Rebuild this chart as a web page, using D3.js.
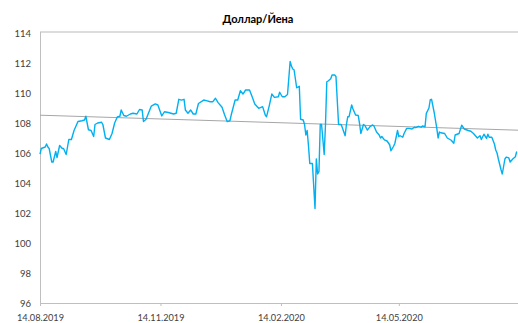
<!DOCTYPE html>
<meta charset="utf-8">
<title>Доллар/Йена</title>
<script src="https://cdn.jsdelivr.net/npm/d3@7"></script>
<style>
  body { margin: 0; background: #fff; }
  svg text { font-family: Lato, "Open Sans", sans-serif; fill: #595959; }
</style>
<body>
<svg id="chart" width="518" height="323"></svg>
<script>

// Доллар/Йена, курс (day = days since 14.08.2019)
var startDate = new Date(2019, 7, 14);

var usdJpy = [
  [0,105.93],[1,106.3],[4,106.4],[5,106.6],[6,106.4],[7,106.3],[9,105.4],[10,105.4],
  [12,106.1],[13,105.7],[15,106.5],[17,106.3],[18,106.3],[20,105.9],[22,106.9],[24,106.9],
  [26,107.5],[29,108.1],[32,108.15],[34,108.2],[35,108.45],[37,107.55],[39,107.5],[41,107.1],
  [42,107.9],[44,108.0],[47,108.05],[48,107.9],[50,107.0],[53,106.9],[55,107.3],[57,108.0],
  [59,108.4],[61,108.45],[62,108.87],[64,108.5],[66,108.45],[69,108.6],[71,108.65],[74,108.6],
  [76,108.9],[78,108.87],[79,108.1],[81,108.25],[85,109.13],[88,109.27],[90,109.2],[93,108.47],
  [95,108.75],[98,108.7],[102,108.6],[104,108.65],[106,109.58],[108,109.53],[110,109.58],[111,108.87],
  [113,108.65],[115,108.87],[117,108.6],[119,108.6],[121,109.3],[125,109.53],[127,109.49],[130,109.42],
  [132,109.42],[134,109.65],[136,109.36],[139,109.05],[141,108.53],[143,108.09],[145,108.15],[146,108.53],
  [149,109.53],[151,109.53],[153,110.15],[155,109.93],[157,110.2],[160,110.2],[162,109.75],[164,109.27],
  [167,108.98],[170,109.09],[172,108.53],[173,108.42],[175,109.13],[177,109.93],[179,109.71],[182,109.75],
  [183,110.05],[185,109.75],[187,109.75],[189,109.9],[191,112.1],[192,111.8],[193,111.6],[194,111.55],
  [196,110.35],[198,110.45],[199,108.25],[201,108.2],[202,107.9],[203,107.2],[204,107.5],[205,106.5],
  [206,105.3],[208,105.3],[210,102.3],[211,105.6],[212,104.6],[213,104.75],[214,107.9],[215,107.9],
  [217,105.9],[218,107.9],[219,110.75],[220,110.8],[222,110.95],[223,111.2],[225,111.2],[226,111.1],
  [228,107.9],[230,107.9],[233,107.15],[234,107.9],[235,108.42],[236,108.42],[238,109.2],[239,108.93],
  [241,108.53],[243,108.5],[244,107.98],[245,107.3],[247,107.9],[248,107.85],[250,107.53],[252,107.76],
  [254,107.87],[255,107.8],[257,107.4],[259,107.2],[260,107.0],[261,107.1],[263,106.87],[265,106.8],
  [267,106.55],[268,106.15],[270,106.45],[271,106.65],[273,107.5],[274,107.1],[275,107.15],[277,107.05],
  [278,107.3],[280,107.64],[282,107.64],[284,107.6],[286,107.72],[287,107.7],[289,107.78],[291,107.72],
  [292,107.8],[294,107.75],[295,108.64],[297,109.0],[298,109.55],[299,109.58],[301,108.7],[303,107.64],
  [304,107.0],[305,107.4],[306,107.35],[309,107.3],[311,107.0],[314,106.85],[316,106.65],[317,107.2],
  [320,107.3],[322,107.85],[324,107.6],[327,107.5],[329,107.45],[331,107.3],[332,107.2],[334,107.0],
  [336,107.15],[337,106.9],[339,107.25],[341,106.98],[342,107.25],[343,107.05],[345,107.05],[347,106.6],
  [348,106.2],[349,106.0],[350,105.6],[352,104.9],[353,104.6],[355,105.6],[356,105.73],[358,105.67],
  [359,105.4],[361,105.6],[363,105.75],[364,106.1]
];

// linear trend, value at first and last day
var trend = [[0, 108.52], [365, 107.52]];

var yTicks = [96, 98, 100, 102, 104, 106, 108, 110, 112, 114];
var xTickLabels = ["14.08.2019", "14.11.2019", "14.02.2020", "14.05.2020"];

var svg = d3.select("#chart");
var parseTick = d3.timeParse("%d.%m.%Y");
var dayToDate = function(d) { return d3.timeDay.offset(startDate, d); };

var x = d3.scaleTime()
    .domain([startDate, dayToDate(365)])
    .range([40, 518]);

var y = d3.scaleLinear()
    .domain([96, 114])
    .range([303, 33]);

svg.append("text")
    .attr("x", 258)
    .attr("y", 23)
    .attr("text-anchor", "middle")
    .style("font-weight", "bold")
    .style("font-size", "11px")
    .style("fill", "#000")
    .text("Доллар/Йена");

// top gridline
svg.append("line")
    .attr("x1", 40).attr("x2", 518)
    .attr("y1", y(114) - 1).attr("y2", y(114) - 1)
    .attr("stroke", "#d0d0d0")
    .attr("stroke-width", 1.5);

var yAxis = svg.append("g")
    .attr("transform", "translate(40,0)")
    .call(d3.axisLeft(y).tickValues(yTicks).tickSize(0).tickPadding(9).tickFormat(d3.format("d")));
yAxis.select(".domain").attr("stroke", "#bfbfbf").attr("d", "M0.5,32V306");
yAxis.selectAll("text").style("font-size", "9.5px").style("fill", "#404040");

var xAxis = svg.append("g")
    .attr("transform", "translate(0,303)")
    .call(d3.axisBottom(x)
      .tickValues(xTickLabels.map(parseTick))
      .tickSize(3)
      .tickPadding(8)
      .tickFormat(d3.timeFormat("%d.%m.%Y")));
xAxis.select(".domain").attr("stroke", "#bfbfbf").attr("d", "M40,0.5H518");
xAxis.selectAll(".tick line").attr("stroke", "#bfbfbf");
xAxis.selectAll("text").style("font-size", "9.2px").style("fill", "#404040");

var line = d3.line()
    .x(function(d) { return x(dayToDate(d[0])); })
    .y(function(d) { return y(d[1]); });

svg.append("path")
    .datum(trend)
    .attr("d", line)
    .attr("fill", "none")
    .attr("stroke", "#a6a6a6")
    .attr("stroke-width", 1);

svg.append("path")
    .datum(usdJpy)
    .attr("d", line)
    .attr("fill", "none")
    .attr("stroke", "#00b0f0")
    .attr("stroke-width", 1.4)
    .attr("stroke-linejoin", "round");

</script>
</body>
